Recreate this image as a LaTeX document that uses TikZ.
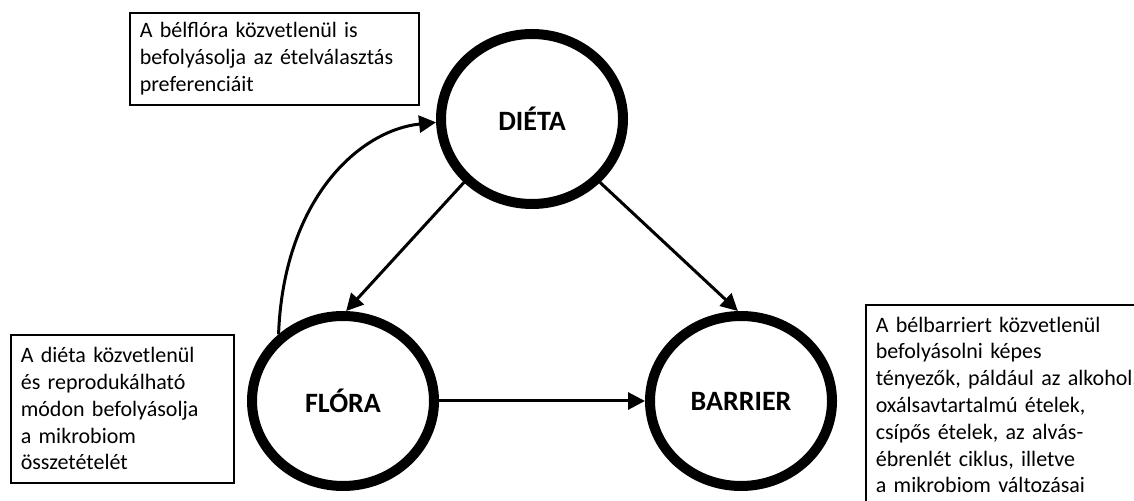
\documentclass[tikz,border=0pt]{standalone}
\usepackage{fontspec}
\setmainfont{Carlito}
\usetikzlibrary{shapes.geometric,arrows.meta}
\begin{document}
\begin{tikzpicture}[x=0.5pt,y=-0.5pt,
	blob/.style={ellipse,draw,line width=5pt,minimum width=91pt,minimum height=85pt,inner sep=0pt,font=\fontsize{14pt}{17pt}\selectfont\bfseries},
	note/.style={draw,line width=0.8pt,anchor=north west,align=left,inner xsep=5pt,inner ysep=3pt,font=\fontsize{11pt}{13.4pt}\selectfont},
	link/.style={line width=1.5pt,-{Triangle[length=8.5pt,width=8.5pt]}}]
	\useasboundingbox (0,0) rectangle (1134,501);

	% the three circles
	\node[blob] (dieta) at (532,119){DIÉTA};
	\node[blob] (flora) at (343,401){FLÓRA};
	\node[blob] (barrier) at (741,401){BARRIER};

	% arrows
	\draw[link] (dieta.223) -- (flora.88);
	\draw[link] (dieta.317) -- (barrier.92);
	\draw[link] (flora.east) -- (barrier.west);
	\draw[link] (flora.134) .. controls +(5,-135) and +(-77,8) .. (dieta.182);

	% text boxes
	\node[note,text width=134.5pt,minimum height=46pt] (bflora) at (129,12){A bélflóra közvetlenül is\\befolyásolja az ételválasztás\\preferenciáit};
	\node[note,text width=101.5pt,minimum height=74pt] (bdieta) at (10,334){A diéta közvetlenül\\és reprodukálható\\módon befolyásolja\\a mikrobiom\\összetételét};
	\node[note,text width=140pt,inner ysep=6pt] (bbarrier) at (865,304){A bélbarriert közvetlenül\\befolyásolni képes\\tényezők, páldául az alkohol,\\oxálsavtartalmú ételek,\\csípős ételek, az alvás-\\ébrenlét ciklus, illetve\\a mikrobiom változásai};
\end{tikzpicture}
\end{document}
